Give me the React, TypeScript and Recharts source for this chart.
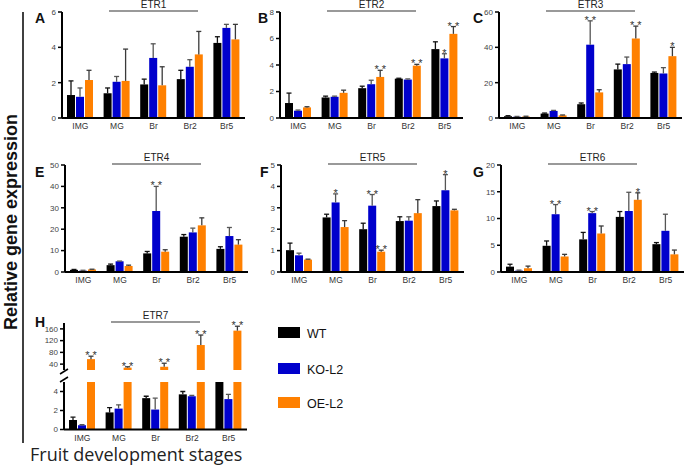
import React from "react";
import { BarChart, Bar, XAxis, YAxis } from "recharts";

const stages = ["IMG", "MG", "Br", "Br2", "Br5"];

// mean values and SD (upper error only)
const etr1Wt = [1.3, 1.4, 1.9, 2.2, 4.25];
const etr1Ko = [1.2, 2.05, 3.4, 2.9, 5.1];
const etr1Oe = [2.15, 2.1, 1.85, 3.6, 4.45];
const etr1WtSd = [0.8, 0.3, 0.3, 0.5, 0.35];
const etr1KoSd = [0.5, 0.3, 0.8, 0.4, 0.2];
const etr1OeSd = [0.55, 1.8, 1.05, 1.3, 0.85];
const etr1Sig = [["", "", ""], ["", "", ""], ["", "", ""], ["", "", ""], ["", "", ""]];

const etr2Wt = [1.13, 1.55, 2.25, 2.97, 5.2];
const etr2Ko = [0.55, 1.6, 2.55, 2.9, 4.5];
const etr2Oe = [0.8, 1.9, 3.1, 3.95, 6.35];
const etr2WtSd = [0.75, 0.1, 0.15, 0.03, 0.55];
const etr2KoSd = [0.05, 0.05, 0.3, 0.05, 0.35];
const etr2OeSd = [0.05, 0.2, 0.5, 0.1, 0.55];
const etr2Sig = [["", "", ""], ["", "", ""], ["", "", "**"], ["", "", "**"], ["", "*", "**"]];

const etr3Wt = [1.0, 2.5, 7.8, 27.5, 25.5];
const etr3Ko = [0.7, 4.0, 41.5, 30.5, 25.2];
const etr3Oe = [0.8, 1.5, 14.5, 45, 35];
const etr3WtSd = [0.3, 0.3, 0.7, 3, 0.5];
const etr3KoSd = [0.2, 0.3, 13.5, 4, 3.3];
const etr3OeSd = [0.2, 0.2, 1.5, 7, 5];
const etr3Sig = [["", "", ""], ["", "", ""], ["", "**", ""], ["", "", "**"], ["", "", "*"]];

const etr4Wt = [1.0, 3.2, 8.7, 16.5, 10.8];
const etr4Ko = [0.6, 5.0, 28.5, 18.5, 16.8];
const etr4Oe = [1.2, 2.8, 9.5, 21.8, 12.8];
const etr4WtSd = [0.2, 0.5, 0.9, 1, 1];
const etr4KoSd = [0.2, 0.1, 11.5, 2, 4];
const etr4OeSd = [0.1, 0.4, 0.9, 3.5, 2.3];
const etr4Sig = [["", "", ""], ["", "", ""], ["", "**", ""], ["", "", ""], ["", "", ""]];

const etr5Wt = [1.02, 2.55, 2.0, 2.38, 3.08];
const etr5Ko = [0.78, 3.25, 3.1, 2.4, 3.82];
const etr5Oe = [0.58, 2.1, 0.95, 2.75, 2.88];
const etr5WtSd = [0.33, 0.15, 0.28, 0.2, 0.24];
const etr5KoSd = [0.1, 0.4, 0.52, 0.18, 0.73];
const etr5OeSd = [0.02, 0.3, 0.07, 0.63, 0.05];
const etr5Sig = [["", "", ""], ["", "*", ""], ["", "**", "**"], ["", "", ""], ["", "*", ""]];

const etr6Wt = [1.0, 4.9, 6.1, 10.3, 5.2];
const etr6Ko = [0.25, 10.8, 11.0, 11.4, 7.7];
const etr6Oe = [0.7, 2.9, 7.2, 13.5, 3.3];
const etr6WtSd = [0.45, 0.9, 1.3, 1.0, 0.3];
const etr6KoSd = [0.1, 1.8, 0.3, 3.5, 3.1];
const etr6OeSd = [0.4, 0.4, 1.4, 1.3, 0.8];
const etr6Sig = [["", "", ""], ["", "**", ""], ["", "**", ""], ["", "", "*"], ["", "", ""]];

const etr7Wt = [1.0, 1.8, 3.3, 3.7, 5.6];
const etr7Ko = [0.45, 2.2, 2.1, 3.5, 3.2];
const etr7Oe = [57, 28, 31, 105, 154];
const etr7WtSd = [0.3, 0.5, 0.2, 0.3, 0];
const etr7KoSd = [0.05, 0.4, 1.2, 0.1, 0.5];
const etr7OeSd = [10, 3, 12, 34, 15];
const etr7Sig = [["", "", "**"], ["", "", "**"], ["", "", "**"], ["", "", "**"], ["", "", "**"]];

const series = [
  { key: "wt", name: "WT", color: "#000000", err: "#111111" },
  { key: "ko", name: "KO-L2", color: "#0000cc", err: "#555555" },
  { key: "oe", name: "OE-L2", color: "#ff8000", err: "#3a3a3a" },
];

function buildRows(wt, ko, oe, wtSd, koSd, oeSd, sig) {
  return stages.map((stage, i) => ({
    stage,
    wt: wt[i],
    ko: ko[i],
    oe: oe[i],
    wtErr: wtSd[i],
    koErr: koSd[i],
    oeErr: oeSd[i],
    wtSig: sig[i][0],
    koSig: sig[i][1],
    oeSig: sig[i][2],
  }));
}

const etr7Rows = buildRows(etr7Wt, etr7Ko, etr7Oe, etr7WtSd, etr7KoSd, etr7OeSd, etr7Sig);
// upper segment of the broken axis only carries the OE bars
const etr7Upper = etr7Rows.map((r) => ({ ...r, wt: null, ko: null, oe: r.oe > 5 ? r.oe : null }));

const FONT = "'Liberation Sans', Arial, sans-serif";

// bar with its own upward error bar and significance stars
function makeShape(key: string, errColor: string, base: number, cap?: number) {
  return (props: any) => {
    const { x, y, width, height, payload, fill } = props;
    const v = payload ? payload[key] : null;
    if (v == null || !height) return <g />;
    const e = payload[key + "Err"] || 0;
    const s = payload[key + "Sig"] || "";
    const over = cap != null && v > cap;
    const ppu = height / (v - base);
    const top = y - e * ppu;
    const cx = x + width / 2;
    return (
      <g>
        <rect x={x} y={y} width={width} height={height} fill={fill} />
        {!over && e > 0 && (
          <g stroke={errColor} strokeWidth={1.3}>
            <line x1={cx} x2={cx} y1={y} y2={top} />
            <line x1={cx - 2.5} x2={cx + 2.5} y1={top} y2={top} />
          </g>
        )}
        {!over && s && (
          <text x={cx} y={top + 3} textAnchor="middle" fontSize={11} fill="#333" fontFamily={FONT}>
            {s.split("").join(" ")}
          </text>
        )}
      </g>
    );
  };
}

function Panel({ axisX, plotTop, plotBottom, data, domain, ticks, hideX = false, cap, clip = false }: any) {
  const yw = 36;
  const plotW = 183;
  const mt = 8;
  const xh = hideX ? 0 : 16;
  const mb = hideX ? 5 : 3;
  const w = yw + plotW + 2;
  const h = mt + (plotBottom - plotTop) + xh + mb;
  return (
    <div style={{ position: "absolute", left: axisX - yw, top: plotTop - mt }}>
      <BarChart width={w} height={h} data={data} margin={{ top: mt, right: 2, bottom: mb, left: 0 }} barSize={8} barGap={1}>
        <XAxis
          dataKey="stage"
          hide={hideX}
          height={16}
          interval={0}
          axisLine={{ stroke: "#000", strokeWidth: 2 }}
          tickLine={false}
          tickSize={3}
          tick={{ fontSize: 8.5, fill: "#333", fontFamily: FONT }}
        />
        <YAxis
          width={yw}
          type="number"
          domain={domain}
          ticks={ticks}
          interval={0}
          allowDataOverflow={clip}
          axisLine={{ stroke: "#000", strokeWidth: 2 }}
          tickLine={{ stroke: "#000", strokeWidth: 1.5 }}
          tickSize={4}
          tickMargin={2}
          tick={{ fontSize: 8, fill: "#444", fontFamily: FONT }}
        />
        {series.map((s) => (
          <Bar
            key={s.key}
            dataKey={s.key}
            fill={s.color}
            isAnimationActive={false}
            shape={makeShape(s.key, s.err, domain[0], cap)}
          />
        ))}
      </BarChart>
    </div>
  );
}

const panels = [
  { letter: "A", lx: 35, title: "ETR1", axisX: 62, plotTop: 12, plotBottom: 118, domain: [0, 6], ticks: [0, 2, 4, 6],
    data: buildRows(etr1Wt, etr1Ko, etr1Oe, etr1WtSd, etr1KoSd, etr1OeSd, etr1Sig) },
  { letter: "B", lx: 258, title: "ETR2", axisX: 280, plotTop: 12, plotBottom: 118, domain: [0, 8], ticks: [0, 2, 4, 6, 8],
    data: buildRows(etr2Wt, etr2Ko, etr2Oe, etr2WtSd, etr2KoSd, etr2OeSd, etr2Sig) },
  { letter: "C", lx: 473, title: "ETR3", axisX: 499, plotTop: 12, plotBottom: 118, domain: [0, 60], ticks: [0, 20, 40, 60],
    data: buildRows(etr3Wt, etr3Ko, etr3Oe, etr3WtSd, etr3KoSd, etr3OeSd, etr3Sig) },
  { letter: "E", lx: 35, title: "ETR4", axisX: 65, plotTop: 165, plotBottom: 272, domain: [0, 50], ticks: [0, 10, 20, 30, 40, 50],
    data: buildRows(etr4Wt, etr4Ko, etr4Oe, etr4WtSd, etr4KoSd, etr4OeSd, etr4Sig) },
  { letter: "F", lx: 260, title: "ETR5", axisX: 281, plotTop: 165, plotBottom: 272, domain: [0, 5], ticks: [0, 1, 2, 3, 4, 5],
    data: buildRows(etr5Wt, etr5Ko, etr5Oe, etr5WtSd, etr5KoSd, etr5OeSd, etr5Sig) },
  { letter: "G", lx: 473, title: "ETR6", axisX: 501, plotTop: 165, plotBottom: 272, domain: [0, 20], ticks: [0, 5, 10, 15, 20],
    data: buildRows(etr6Wt, etr6Ko, etr6Oe, etr6WtSd, etr6KoSd, etr6OeSd, etr6Sig) },
];

export default function App() {
  const titleRows = [
    ...panels.map((p) => ({ title: p.title, letter: p.letter, lx: p.lx, axisX: p.axisX, top: p.plotTop })),
    { title: "ETR7", letter: "H", lx: 35, axisX: 64, top: 323 },
  ];
  return (
    <div style={{ position: "absolute", left: 0, top: 0, width: 685, height: 471, background: "#fff", overflow: "hidden" }}>
      {panels.map((p) => (
        <Panel key={p.letter} axisX={p.axisX} plotTop={p.plotTop} plotBottom={p.plotBottom} data={p.data} domain={p.domain} ticks={p.ticks} />
      ))}
      <Panel axisX={64} plotTop={323} plotBottom={370} data={etr7Upper} domain={[20, 180]} ticks={[40, 80, 120, 160]} hideX />
      <Panel axisX={64} plotTop={381.5} plotBottom={429} data={etr7Rows} domain={[0, 5]} ticks={[0, 2, 4]} cap={5} clip />

      <svg width={685} height={471} style={{ position: "absolute", left: 0, top: 0, pointerEvents: "none" }} fontFamily={FONT}>
        {titleRows.map((t) => {
          const lineY = t.top === 12 ? 11 : t.top === 165 ? 164 : 322;
          const titleY = lineY - 3.5;
          const letterY = t.top === 12 ? 23 : t.top === 165 ? 177 : 327;
          return (
            <g key={t.title}>
              <text x={t.axisX + 91.5} y={titleY} textAnchor="middle" fontSize={10} fill="#222">{t.title}</text>
              <line x1={t.axisX + 47} x2={t.axisX + 136} y1={lineY} y2={lineY} stroke="#777" strokeWidth={1.5} />
              <text x={t.lx} y={letterY} fontSize={14} fontWeight="bold" fill="#111">{t.letter}</text>
            </g>
          );
        })}
        {/* axis break marks for H */}
        <line x1={60} y1={374} x2={68} y2={369} stroke="#000" strokeWidth={1.5} />
        <line x1={60} y1={382} x2={68} y2={377} stroke="#000" strokeWidth={1.5} />

        <line x1={23} x2={23} y1={12} y2={443} stroke="#000" strokeWidth={1.5} />
        <text transform="translate(17,222) rotate(-90)" textAnchor="middle" fontSize={18} fontWeight="bold" fill="#111">
          Relative gene expression
        </text>
        <text x={30} y={461} fontSize={18} fill="#222" fontFamily="'Open Sans', 'Noto Sans', sans-serif">
          Fruit development stages
        </text>

        {series.map((s, i) => {
          const yy = [327, 363, 397][i];
          return (
            <g key={s.key}>
              <rect x={278} y={yy} width={22} height={11} fill={s.color} />
              <text x={307} y={yy + 11} fontSize={12.5} fill="#111">{s.name}</text>
            </g>
          );
        })}
      </svg>
    </div>
  );
}
